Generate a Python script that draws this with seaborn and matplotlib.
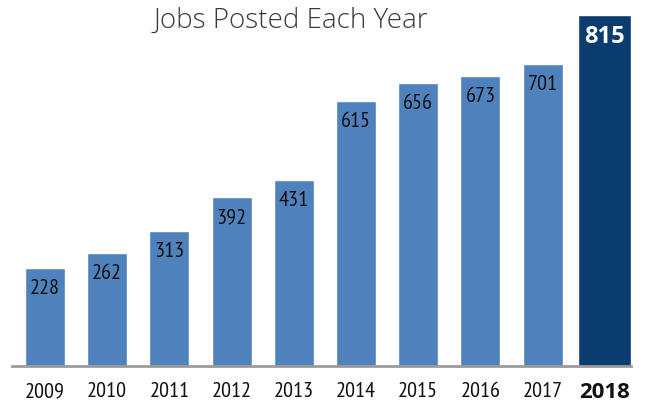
import pandas as pd
import numpy as np
import matplotlib
matplotlib.use("Agg")
import matplotlib.pyplot as plt
import seaborn as sns

# data
years = ["2009", "2010", "2011", "2012", "2013", "2014", "2015", "2016", "2017", "2018"]
jobs = [228, 262, 313, 392, 431, 615, 656, 673, 701, 815]

df = pd.DataFrame({"year": years, "jobs": jobs})

sns.set_theme(style="white")
narrow = ["PT Sans Narrow", "DejaVu Sans"]
sans = ["Open Sans", "DejaVu Sans"]
plt.rcParams["font.family"] = sans

blue = "#4f81bd"
navy = "#0b3c6f"
palette = [blue] * (len(years) - 1) + [navy]

fig = plt.figure(figsize=(6.49, 4.06), dpi=100)
W, H = 649, 406
# axes from x=12..631 px, y=16..367 px
ax = fig.add_axes([12 / W, (H - 367) / H, (631 - 12) / W, (367 - 16) / H])

sns.barplot(data=df, x="year", y="jobs", hue="year", palette=palette,
            legend=False, width=0.643, saturation=1, ax=ax)

# wider highlight bar for the last year
last = ax.patches[-1]
c = last.get_x() + last.get_width() / 2
last.set_width(0.85)
last.set_x(c - 0.85 / 2)

ax.set_xlim(-0.53, 9.42)
ax.set_ylim(0, 815)
ax.set_xlabel("")
ax.set_ylabel("")
ax.set_yticks([])
for s in ["top", "right", "left"]:
    ax.spines[s].set_visible(False)
ax.spines["bottom"].set_color("#9a9a9a")
ax.spines["bottom"].set_linewidth(2)
ax.spines["bottom"].set_zorder(5)

ax.tick_params(axis="x", length=0, pad=11)
for i, lab in enumerate(ax.get_xticklabels()):
    if i == len(years) - 1:
        lab.set_fontfamily(sans)
        lab.set_fontweight("bold")
        lab.set_fontsize(16)
    else:
        lab.set_fontfamily(narrow)
        lab.set_fontsize(16)
    lab.set_color("#111111")

# value labels inside bars
for i, (y, v) in enumerate(zip(years, jobs)):
    if i == len(years) - 1:
        ax.annotate(str(v), (i, v), xytext=(0, -15), textcoords="offset points",
                    ha="center", va="center", color="white", fontsize=17,
                    fontweight="bold", family=sans, annotation_clip=False)
    else:
        ax.annotate(str(v), (i, v), xytext=(0, -14), textcoords="offset points",
                    ha="center", va="center", color="#111111", fontsize=16,
                    family=narrow, annotation_clip=False)

fig.text(291 / W, 1 - 21 / H, "Jobs Posted Each Year", ha="center", va="center",
         fontsize=20, fontweight=300, color="#3a3a3a", family=sans)

fig.savefig("out.png", dpi=100)
